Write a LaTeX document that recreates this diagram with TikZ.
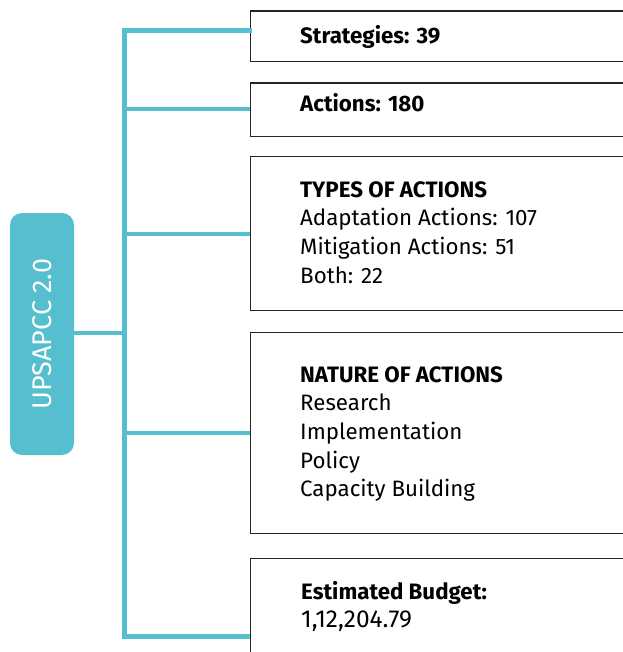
\documentclass[tikz,border=0pt]{standalone}
\usepackage{fontspec}
\setmainfont{Fira Sans}
\definecolor{teal}{HTML}{55BECF}
\newcommand{\firstline}{\rule{0pt}{20pt}}
\begin{document}
\begin{tikzpicture}[x=1pt,y=-1pt,
  infobox/.style={draw=black!85,line width=1.3pt,fill=white,rectangle,anchor=north west,inner sep=0pt},
  label/.style={anchor=north west,inner sep=0pt,font=\fontsize{22.3}{28.6}\selectfont,align=left},
  branch/.style={draw=teal,line width=4.6pt},
  hub/.style={fill=teal,rounded corners=12pt,minimum width=242pt,minimum height=64pt,inner sep=0pt,
    text=white,font=\fontsize{27}{30}\selectfont,rotate=90}]
\useasboundingbox (0,0) rectangle (622,652);

% right-hand boxes (they run off the right and bottom edges)
\node[infobox,minimum width=390pt,minimum height=50.5pt] (b1) at (249.5,10.5) {};
\node[infobox,minimum width=390pt,minimum height=53.5pt] (b2) at (249.5,82.5) {};
\node[infobox,minimum width=390pt,minimum height=154pt] (b3) at (249.5,156) {};
\node[infobox,minimum width=390pt,minimum height=201pt] (b4) at (249.5,332) {};
\node[infobox,minimum width=390pt,minimum height=120pt] (b5) at (249.5,558) {};

% hub on the left
\node[hub] (hub) at (42,334) {UPSAPCC 2.0};

% tree connectors
\coordinate (t0) at (124.5,333);
\coordinate (t1) at (124.5,30.5);
\coordinate (t2) at (124.5,109);
\coordinate (t3) at (124.5,234);
\coordinate (t4) at (124.5,433);
\coordinate (t5) at (124.5,636.5);
\draw[branch] (74,333) -- (t0);
\draw[branch,line cap=rect] (t5) -- (t1) -- (b1.west |- t1);
\draw[branch] (t2) -- (b2.west |- t2);
\draw[branch] (t3) -- (b3.west |- t3);
\draw[branch] (t4) -- (b4.west |- t4);
\draw[branch] ([xshift=-2.3pt]t5) -- (b5.west |- t5);

% box texts (first baseline sits 20pt below the node's top)
\node[label] (s1) at (300,43-20) {\firstline\textbf{Strategies: 39}};
\node[label] (s2) at (300,111-20) {\firstline\textbf{Actions: 180}};
\node[label] (s3) at (300,197-20) {\firstline\textbf{TYPES OF ACTIONS}\\Adaptation Actions: 107\\Mitigation Actions: 51\\Both: 22};
\node[label] (s4) at (300,382-20) {\firstline\textbf{NATURE OF ACTIONS}\\Research\\Implementation\\Policy\\Capacity Building};
\node[label] (s5) at (301,599-20) {\firstline\textbf{Estimated Budget:}\\{\fontsize{24.5}{28.6}\selectfont 1,12,204.79}};
\end{tikzpicture}
\end{document}
